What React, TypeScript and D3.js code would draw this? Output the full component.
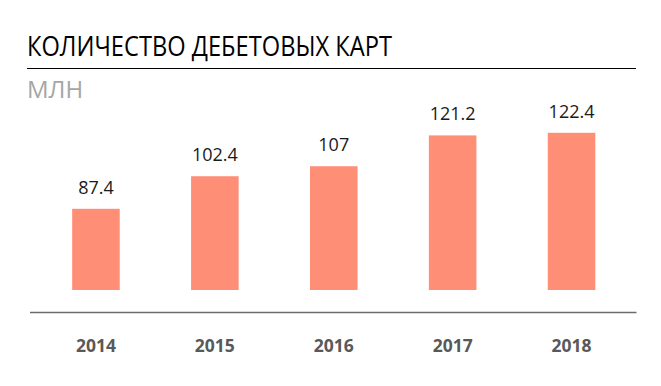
import * as d3 from "d3";
import React, { useRef, useEffect } from "react";

const years = ["2014", "2015", "2016", "2017", "2018"];
const cards = [87.4, 102.4, 107, 121.2, 122.4];
const labels = ["87.4", "102.4", "107", "121.2", "122.4"];

const W = 661;
const H = 386;

function App() {
  const ref = useRef<SVGSVGElement>(null);

  useEffect(() => {
    const svg = d3.select(ref.current);
    svg.selectAll("*").remove();
    const font = "'Open Sans', sans-serif";

    // title and rule
    svg
      .append("text")
      .attr("x", 27)
      .attr("y", 56)
      .attr("font-family", font)
      .attr("font-size", 27)
      .attr("fill", "#000")
      .attr("textLength", 365)
      .attr("lengthAdjust", "spacingAndGlyphs")
      .text("КОЛИЧЕСТВО ДЕБЕТОВЫХ КАРТ");
    svg
      .append("line")
      .attr("x1", 27)
      .attr("x2", 636)
      .attr("y1", 68.5)
      .attr("y2", 68.5)
      .attr("stroke", "#000")
      .attr("stroke-width", 1);
    svg
      .append("text")
      .attr("x", 27)
      .attr("y", 98)
      .attr("font-family", font)
      .attr("font-size", 24)
      .attr("fill", "#a6a6a6")
      .text("МЛН");

    // scales
    var x = d3
      .scaleBand()
      .domain(years)
      .range([36.5, 631])
      .paddingInner(0.6)
      .paddingOuter(0.3);
    var y = d3.scaleLinear().domain([50, 130]).range([290, 116.3]);

    const g = svg.append("g");
    g.selectAll("rect")
      .data(cards)
      .enter()
      .append("rect")
      .attr("x", (d, i) => x(years[i])!)
      .attr("width", x.bandwidth())
      .attr("y", (d) => y(d))
      .attr("height", (d) => y(50) - y(d))
      .attr("fill", "#ff8e77");

    g.selectAll("text.val")
      .data(cards)
      .enter()
      .append("text")
      .attr("class", "val")
      .attr("x", (d, i) => x(years[i])! + x.bandwidth() / 2)
      .attr("y", (d) => y(d) - 15)
      .attr("text-anchor", "middle")
      .attr("font-family", font)
      .attr("font-size", 18)
      .attr("fill", "#1a1a1a")
      .text((d, i) => labels[i]);

    // bottom axis
    const ax = svg
      .append("g")
      .attr("transform", "translate(0,312)")
      .call(d3.axisBottom(x).tickSize(0).tickPadding(28));
    ax.select(".domain")
      .attr("d", "M30,0.5H636.5")
      .attr("stroke", "#6b6b6b")
      .attr("stroke-width", 1.3);
    ax.selectAll("text")
      .attr("font-family", font)
      .attr("font-size", 17.5)
      .attr("font-weight", "bold")
      .attr("fill", "#595959");
  }, []);

  return (
    <svg
      ref={ref}
      width={W}
      height={H}
      style={{ position: "absolute", left: 0, top: 0, background: "#fff" }}
    ></svg>
  );
}

export default App;
